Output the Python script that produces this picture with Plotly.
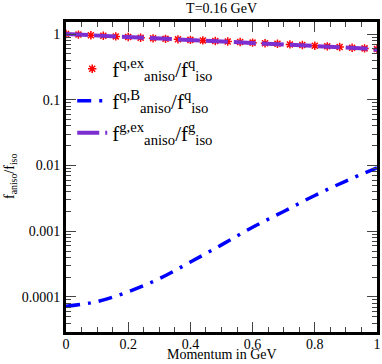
import plotly.graph_objects as go

# momentum grid for the exact (star / dashed) curves
p_ex = [0.00, 0.04, 0.08, 0.12, 0.16, 0.20, 0.24, 0.28, 0.32, 0.36, 0.40, 0.44, 0.48,
        0.52, 0.56, 0.60, 0.64, 0.68, 0.72, 0.76, 0.80, 0.84, 0.88, 0.92, 0.96, 1.00]
ratio_q_ex = [1.00, 0.98, 0.96, 0.94, 0.92, 0.90, 0.88, 0.86, 0.845, 0.83, 0.815, 0.80, 0.785,
              0.77, 0.755, 0.74, 0.725, 0.71, 0.695, 0.68, 0.665, 0.65, 0.635, 0.62, 0.605, 0.59]
ratio_g_ex = [1.00, 0.98, 0.96, 0.94, 0.92, 0.90, 0.88, 0.86, 0.845, 0.83, 0.815, 0.80, 0.785,
              0.77, 0.755, 0.74, 0.725, 0.71, 0.695, 0.68, 0.665, 0.65, 0.635, 0.62, 0.605, 0.575]

# Boltzmann approx curve
p_b = [0.0, 0.1, 0.2, 0.3, 0.4, 0.5, 0.6, 0.7, 0.8, 0.9, 1.0]
ratio_q_b = [7.2e-5, 8.5e-5, 1.2e-4, 1.9e-4, 3.4e-4, 6.2e-4, 1.15e-3, 2.0e-3, 3.5e-3, 5.8e-3, 9.2e-3]

xtick_vals = [0, 0.2, 0.4, 0.6, 0.8, 1]
xtick_text = ["0", "0.2", "0.4", "0.6", "0.8", "1"]
ytick_vals = [1, 0.1, 0.01, 0.001, 0.0001]
ytick_text = ["1", "0.1", "0.01", "0.001", "0.0001"]

# minor tick positions
x_minor = [round(0.05 * i, 2) for i in range(21) if i % 4 != 0]
y_minor = [m * 10.0 ** e for e in range(-5, 1) for m in range(2, 10)]

serif = "Liberation Serif"
XR = [0, 1]
YR = [-4.533, 0.183]

fig = go.Figure()
fig.add_trace(go.Scatter(
    x=p_ex, y=ratio_q_ex, mode="markers", legend="legend",
    marker=dict(symbol="asterisk-open", size=7, color="red", line=dict(color="red", width=1.5)),
    name="f<sup>q,ex</sup><sub>aniso</sub>/f<sup>q</sup><sub>iso</sub>",
))
fig.add_trace(go.Scatter(
    x=p_b, y=ratio_q_b, mode="lines", line_shape="spline", legend="legend2",
    line=dict(color="#0000ff", width=3.5, dash="14px,8px,3px,8px"),
    name="f<sup>q,B</sup><sub>aniso</sub>/f<sup>q</sup><sub>iso</sub>",
))
fig.add_trace(go.Scatter(
    x=p_ex, y=ratio_g_ex, mode="lines", legend="legend3",
    line=dict(color="#7b2fd0", width=4, dash="22px,6px"),
    name="f<sup>g,ex</sup><sub>aniso</sub>/f<sup>g</sup><sub>iso</sub>",
))
# invisible trace to carry the minor-tick overlay axes
fig.add_trace(go.Scatter(
    x=p_b, y=ratio_q_b, xaxis="x2", yaxis="y2", mode="lines", opacity=0,
    showlegend=False, hoverinfo="skip",
))

leg = dict(xanchor="left", yanchor="middle", bgcolor="rgba(0,0,0,0)",
           font=dict(family=serif, size=21), itemwidth=30)
ax = dict(mirror="allticks", showline=True, linewidth=3, linecolor="black",
          showgrid=False, zeroline=False, automargin=False, ticks="inside")

fig.update_layout(
    width=382, height=364,
    margin=dict(l=66, r=5, t=22, b=32, autoexpand=False),
    paper_bgcolor="white", plot_bgcolor="white",
    font=dict(family=serif, size=14, color="black"),
    title=dict(text="T=0.16 GeV", x=0.58, xanchor="center", y=0.99, yanchor="top",
               font=dict(family=serif, size=14)),
    legend=dict(x=0.02, y=0.848, **leg),
    legend2=dict(x=0.02, y=0.745, **leg),
    legend3=dict(x=0.02, y=0.642, **leg),
    xaxis=dict(range=XR, tickvals=xtick_vals, ticktext=xtick_text, ticklen=10, tickwidth=1.2,
               ticklabelstandoff=-3, tickfont=dict(family=serif, size=14), **ax),
    yaxis=dict(type="log", range=YR, tickvals=ytick_vals, ticktext=ytick_text, ticklen=10,
               tickwidth=1.2, tickfont=dict(family=serif, size=14), **ax),
    xaxis2=dict(overlaying="x", range=XR, tickvals=x_minor, showticklabels=False,
                ticklen=5, tickwidth=1, **ax),
    yaxis2=dict(overlaying="y", type="log", range=YR, tickvals=y_minor, showticklabels=False,
                ticklen=5, tickwidth=1, **ax),
    annotations=[
        dict(text="Momentum in GeV", xref="paper", yref="paper", x=0.5, y=-0.1,
             xanchor="center", yanchor="bottom", showarrow=False, borderpad=0,
             font=dict(family=serif, size=14)),
        dict(text="f<sub>aniso</sub>/f<sub>iso</sub>", xref="paper", yref="paper", x=-0.18, y=0.5,
             xanchor="center", yanchor="middle", showarrow=False, textangle=-90,
             font=dict(family=serif, size=14)),
    ],
)

fig.write_html("out.html", config={"displayModeBar": False},
               post_script="document.body.style.margin='0';")
